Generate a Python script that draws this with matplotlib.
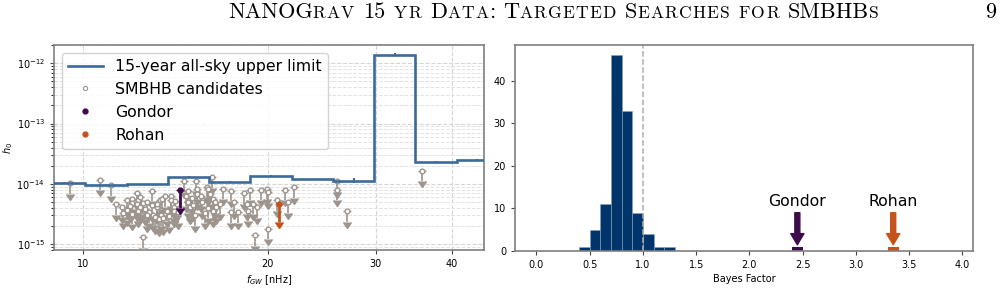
import matplotlib
matplotlib.use('Agg')
import matplotlib.pyplot as plt
from matplotlib.ticker import FixedLocator, NullLocator, FuncFormatter, LogLocator, NullFormatter

# 15-year all-sky upper limit (log-spaced bins)
bin_edges = [8.6, 10.08, 11.78, 13.75, 16.05, 18.75, 21.9, 25.6, 29.85, 34.85, 40.7, 47.5]
h_limit = [1.04e-14, 0.96e-14, 0.98e-14, 1.29e-14, 1.09e-14, 1.35e-14, 1.19e-14, 1.13e-14, 1.39e-12, 2.34e-14, 2.52e-14]
bin_centers = [9.31, 10.9, 12.73, 14.86, 17.35, 20.26, 23.68, 27.64, 32.25, 37.66, 43.97]
h_limit_err = [0.03, 0.03, 0.03, 0.03, 0.03, 0.03, 0.03, 0.09, 0.05, 0.03, 0.04]  # relative

# SMBHB candidates (upper limits)
cand_f = [9.5, 10.65, 11.1, 11.3, 11.57, 11.8, 11.8, 12.0, 12.0, 12.25, 12.27, 12.24, 12.4, 12.5,
          12.5, 12.7, 12.95, 12.95, 13.2, 13.2, 13.35, 13.45, 13.4, 13.6, 13.7, 13.9, 13.9, 14.05,
          14.05, 14.3, 14.6, 14.7, 14.85, 14.85, 14.95, 15.05, 15.3, 15.35, 15.35, 15.55, 15.6,
          15.9, 16.0, 16.2, 16.1, 16.3, 16.4, 16.5, 16.7, 16.9, 17.4, 17.4, 17.6, 17.9, 18.3, 18.5,
          18.6, 18.75, 18.9, 19.05, 19.2, 19.5, 19.95, 20.0, 20.0, 20.7, 21.35, 21.6, 22.1, 26.0,
          26.0, 27.0, 35.7,
          11.6, 12.0, 12.3, 12.6, 12.8, 13.0, 13.1, 13.3, 13.5, 12.7, 13.8, 14.2, 11.9, 12.4, 14.1,
          15.1, 15.2, 16.0, 16.3, 15.8]
cand_h = [1.02e-14, 1.16e-14, 0.95e-14, 4.6e-15, 4.2e-15, 5.4e-15, 3.7e-15, 5.7e-15, 4.8e-15, 7.0e-15,
          5.4e-15, 4.6e-15, 6.0e-15, 4.8e-15, 1.31e-15, 5.0e-15, 7.75e-15, 4.4e-15, 4.1e-15, 4.67e-15,
          5.3e-15, 5.65e-15, 3.0e-15, 6.2e-15, 3.6e-15, 6.4e-15, 5.3e-15, 4.1e-15, 3.6e-15, 3.4e-15,
          1.1e-14, 6.4e-15, 7.75e-15, 5.0e-15, 4.1e-15, 5.9e-15, 1.12e-14, 8.3e-15, 6.8e-15, 6.4e-15,
          5.0e-15, 9.0e-15, 8.3e-15, 1.29e-14, 6.8e-15, 5.65e-15, 5.0e-15, 4.1e-15, 4.67e-15, 8.3e-15,
          7.75e-15, 3.4e-15, 5.0e-15, 3.4e-15, 7.0e-15, 4.67e-15, 3.6e-15, 7.95e-15, 4.67e-15, 1.4e-15,
          4.1e-15, 7.95e-15, 8.3e-15, 7.3e-15, 1.8e-15, 5.3e-15, 7.95e-15, 5.0e-15, 8.8e-15, 1.1e-14,
          8.0e-15, 3.5e-15, 1.66e-14,
          3.3e-15, 3.2e-15, 3.6e-15, 3.9e-15, 3.4e-15, 3.1e-15, 2.8e-15, 2.6e-15, 2.7e-15, 3.0e-15,
          2.9e-15, 4.6e-15, 4.3e-15, 4.2e-15, 5.2e-15, 4.5e-15, 3.0e-15, 4.0e-15, 3.6e-15, 3.3e-15]

gondor_f, gondor_h = 14.4, 8.05e-15
rohan_f, rohan_h = 20.9, 4.67e-15

h_ticks = [1e-15, 1e-14, 1e-13, 1e-12]

# Bayes factor histogram
bf_left = [0.4, 0.5, 0.6, 0.7, 0.8, 0.9, 1.0, 1.1, 1.2]
bf_counts = [1, 5, 11, 46, 33, 9, 4, 1, 1]
gondor_bf = 2.45
rohan_bf = 3.35

blue = '#3b6a9b'
grey = '#9d948d'
purple = '#3d0a4a'
orange = '#c5521b'
navy = '#00356b'
spine_c = '#7f7f7f'

fig = plt.figure(figsize=(10.06, 3.02), dpi=100)
ax1 = fig.add_axes([0.0537, 0.172, 0.4274, 0.679])
ax2 = fig.add_axes([0.512, 0.169, 0.4553, 0.682])

# ---- left panel
ax1.set_xscale('log')
ax1.set_yscale('log')
ax1.stairs(h_limit, bin_edges, baseline=None, color=blue, lw=1.9, zorder=4,
           label='15-year all-sky upper limit')
ax1.errorbar(bin_centers, h_limit, yerr=[h * e for h, e in zip(h_limit, h_limit_err)],
             fmt='none', ecolor=blue, elinewidth=1.5, zorder=4)
ax1.errorbar(cand_f, cand_h, yerr=[0.33 * h for h in cand_h], uplims=True, fmt='o',
             color=grey, ms=3.4, mfc='white', mec=grey, mew=1.0, elinewidth=1.2,
             capsize=2.8, zorder=3)
ax1.errorbar([gondor_f], [gondor_h], yerr=[0.5 * gondor_h], uplims=True, fmt='o',
             color=purple, ms=3.5, elinewidth=2, capsize=2.8, zorder=5)
ax1.errorbar([rohan_f], [rohan_h], yerr=[0.5 * rohan_h], uplims=True, fmt='o',
             color=orange, ms=3.5, elinewidth=2, capsize=2.8, zorder=5)

# legend proxies
ax1.plot([], [], 'o', color=grey, ms=3, mfc='white', mec=grey, mew=0.8, label='SMBHB candidates')
ax1.plot([], [], 'o', color=purple, ms=3.5, label='Gondor')
ax1.plot([], [], 'o', color=orange, ms=3.5, label='Rohan')

ax1.set_xlim(8.96, 45.1)
ax1.set_ylim(8e-16, 2e-12)
ax1.xaxis.set_major_locator(FixedLocator([10, 20, 30, 40]))
ax1.xaxis.set_major_formatter(FuncFormatter(lambda v, p: '%d' % v))
ax1.xaxis.set_minor_locator(NullLocator())
ax1.yaxis.set_major_locator(FixedLocator(h_ticks))
ax1.yaxis.set_minor_locator(LogLocator(base=10, subs=range(2, 10), numticks=20))
ax1.yaxis.set_minor_formatter(NullFormatter())
ax1.grid(which='major', ls='--', color='#d5d5d5', lw=0.8)
ax1.yaxis.grid(which='minor', ls='--', color='#e2e2e2', lw=0.7)
ax1.set_axisbelow(True)
ax1.set_xlabel(r'$f_{GW}$ [nHz]', fontsize=7, labelpad=3)
ax1.set_ylabel(r'$h_0$', fontsize=7, labelpad=1)
ax1.tick_params(labelsize=7, width=0.8, length=3, color='#444444')
ax1.tick_params(which='minor', width=0.6, length=2)
ax1.legend(loc='upper left', fontsize=11.3, labelspacing=0.5, handlelength=2.2,
           borderaxespad=0.5, framealpha=0.85, edgecolor='#cccccc')

# ---- right panel
ax2.bar(bf_left, bf_counts, width=0.1, align='edge', color=navy, edgecolor='#8aa0b8', lw=0.4)
ax2.bar([gondor_bf - 0.05], [1], width=0.1, align='edge', color=purple)
ax2.bar([rohan_bf - 0.05], [1], width=0.1, align='edge', color=orange)
ax2.axvline(1.0, ls='--', color='#b8aea6', lw=1.1)
for xb, name, c in [(gondor_bf, 'Gondor', purple), (rohan_bf, 'Rohan', orange)]:
    ax2.annotate(name, xy=(xb, 1.2), xytext=(xb, 9.9), ha='center', va='bottom', fontsize=11.3,
                 arrowprops=dict(width=3.6, headwidth=9.5, headlength=8, color=c, shrink=0.03))
ax2.set_xlim(-0.2, 4.1)
ax2.set_ylim(0, 48.4)
ax2.set_xticks([0.0, 0.5, 1.0, 1.5, 2.0, 2.5, 3.0, 3.5, 4.0])
ax2.set_yticks([0, 10, 20, 30, 40])
ax2.set_xlabel('Bayes Factor', fontsize=7, labelpad=3)
ax2.tick_params(labelsize=7, width=0.8, length=3, color='#444444')

for ax in (ax1, ax2):
    for s in ax.spines.values():
        s.set_color(spine_c)
        s.set_linewidth(1.2)

# ---- running header in small caps (big capitals + small capitals)
pieces = [('NANOG', 1), ('RAV', 0), (None, 0), ('15', 1), (None, 0), ('YR', 0), (None, 0),
          ('D', 1), ('ATA', 0), (':', 1), (None, 0), ('T', 1), ('ARGETED', 0), (None, 0),
          ('S', 1), ('EARCHES', 0), (None, 0), ('FOR', 0), (None, 0), ('SMBHB', 1), ('S', 0)]
big, small = 16.0, 12.6
base_y = 0.942
target_w = 652
renderer = fig.canvas.get_renderer()
W = fig.get_figwidth() * fig.dpi
gap = 0.36 * big * fig.dpi / 72
glyphs = []
for s, b in pieces:
    if s is None:
        glyphs.append((None, 0, gap))
        continue
    chars = s if not b else [s]
    for ch in chars:
        t = fig.text(0.5, base_y, ch, fontsize=big if b else small, family='cmr10', va='baseline')
        glyphs.append((t, 0 if b else 1, t.get_window_extent(renderer).width))
natural = sum(g[2] for g in glyphs)
n_small = sum(g[1] for g in glyphs)
track = max(0.0, (target_w - natural) / n_small)
total = natural + track * n_small
cur = 554 - total / 2
for t, is_small, w in glyphs:
    if t is not None:
        t.set_x(cur / W)
    cur += w + (track if is_small else 0)
fig.text(985 / W, base_y, '9', fontsize=big, family='cmr10', va='baseline')

fig.savefig('out.png', dpi=100)
